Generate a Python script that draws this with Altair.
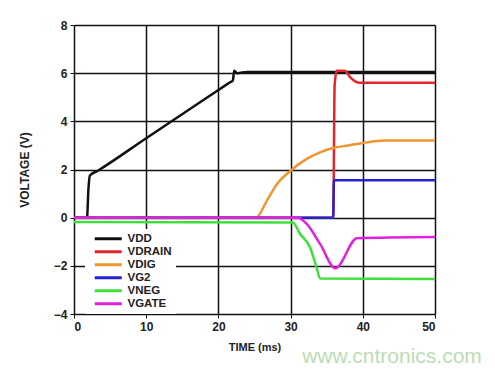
import altair as alt
import pandas as pd

series = ["VDD", "VDRAIN", "VDIG", "VG2", "VNEG", "VGATE"]
colors = ["#111111", "#e3262b", "#f0952f", "#2323cf", "#3fe03a", "#e021df"]

VDD_t = [0, 1.8, 2.0, 2.2, 3.3, 10, 20, 21.5, 22.0, 22.2, 22.6, 24, 50]
VDD_v = [0, 0, 1.2, 1.75, 1.95, 3.3, 5.3, 5.6, 5.7, 6.1, 6.0, 6.05, 6.05]

VDRAIN_t = [0, 35.9, 36.1, 36.4, 37.5, 38.2, 39.0, 39.6, 50]
VDRAIN_v = [0, 0, 5.5, 6.1, 6.1, 5.85, 5.65, 5.6, 5.6]

VDIG_t = [0, 25.2, 26.7, 28, 30, 32, 34, 36, 38, 40, 43, 50]
VDIG_v = [0, 0, 0.7, 1.35, 1.95, 2.4, 2.7, 2.9, 3.0, 3.1, 3.2, 3.2]

VG2_t = [0, 35.9, 36.0, 50]
VG2_v = [0, 0, 1.55, 1.55]

VNEG_t = [0, 30.3, 31.3, 32.7, 33.6, 34.1, 50]
VNEG_v = [-0.18, -0.2, -0.67, -1.24, -2.07, -2.53, -2.55]

VGATE_t = [0, 31, 32.2, 34.1, 36.2, 39.2, 50]
VGATE_v = [0, 0, -0.25, -1.1, -2.1, -0.85, -0.8]

x_ticks = [0, 10, 20, 30, 40, 50]
y_ticks = [-4, -2, 0, 2, 4, 6, 8]

data = {
    "VDD": (VDD_t, VDD_v),
    "VDRAIN": (VDRAIN_t, VDRAIN_v),
    "VDIG": (VDIG_t, VDIG_v),
    "VG2": (VG2_t, VG2_v),
    "VNEG": (VNEG_t, VNEG_v),
    "VGATE": (VGATE_t, VGATE_v),
}
rows = []
for i, s in enumerate(series):
    ts, vs = data[s]
    for j, (t, v) in enumerate(zip(ts, vs)):
        rows.append({"series": s, "t": t, "v": v, "ord": i, "k": j})
df = pd.DataFrame(rows)

font = "Liberation Sans"

lines = alt.Chart(df).mark_line(strokeWidth=2.5, interpolate="monotone").encode(
    x=alt.X("t:Q", scale=alt.Scale(domain=[0, 50], nice=False),
            axis=alt.Axis(values=x_ticks, title="TIME (ms)", grid=True,
                          gridColor="#111", gridWidth=1.5, gridOpacity=1,
                          domain=False, tickSize=4, tickColor="#111",
                          labelFont=font, labelFontWeight="bold", labelFontSize=12,
                          labelColor="#222", labelPadding=3,
                          titleFont=font, titleFontWeight="bold", titleFontSize=11,
                          titleColor="#222", titlePadding=9)),
    y=alt.Y("v:Q", scale=alt.Scale(domain=[-4, 8], nice=False),
            axis=alt.Axis(values=y_ticks, title="VOLTAGE (V)", grid=True,
                          gridColor="#111", gridWidth=1.5, gridOpacity=1,
                          domain=False, tickSize=4, tickColor="#111",
                          labelFont=font, labelFontWeight="bold", labelFontSize=12,
                          labelColor="#222", labelPadding=3,
                          titleFont=font, titleFontWeight="bold", titleFontSize=12,
                          titleColor="#222", titlePadding=22)),
    color=alt.Color("series:N", scale=alt.Scale(domain=series, range=colors),
                    legend=alt.Legend(orient="none", legendX=11, legendY=204,
                                      title=None, symbolType="M0,0H9",
                                      symbolSize=36, symbolStrokeWidth=3,
                                      labelFont=font, labelFontWeight="bold",
                                      labelFontSize=11.5, labelColor="#222",
                                      rowPadding=0, padding=4, fillColor="white",
                                      labelOffset=27)),
    order=alt.Order("k:Q"),
    detail="series:N",
)

mark = alt.Chart(pd.DataFrame({"w": ["www.cntronics.com"]})).mark_text(
    font=font, fontSize=21, color="#bcdcb4", align="center", baseline="middle"
).encode(x=alt.value(318), y=alt.value(332), text="w:N")

chart = alt.layer(lines, mark).properties(
    width=361, height=289,
    autosize=alt.AutoSizeParams(type="none"),
    padding={"left": 66, "top": 17, "right": 52, "bottom": 53},
).configure_view(stroke="#111", strokeWidth=1.5).configure(background="white")

chart.save("out.html", embed_options={"renderer": "svg", "actions": False})
